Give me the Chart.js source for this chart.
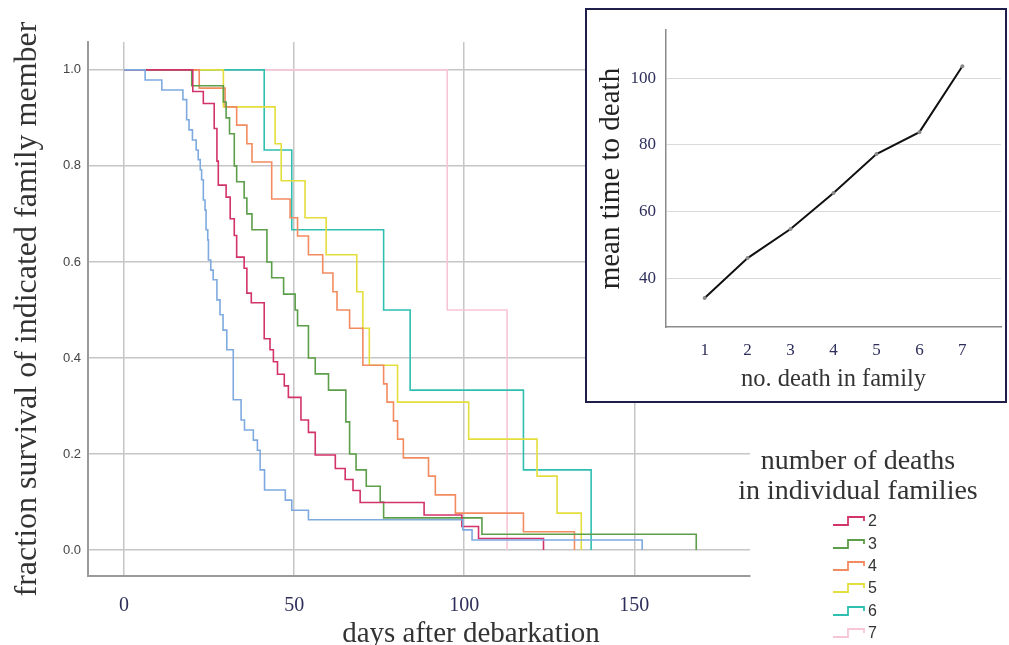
<!DOCTYPE html>
<html>
<head>
<meta charset="utf-8">
<script src="https://cdn.jsdelivr.net/npm/chart.js@4.4.1/dist/chart.umd.min.js"></script>
<style>
  html, body { margin: 0; padding: 0; background: #fff; }
  body { width: 1009px; height: 645px; position: relative; overflow: hidden; }
  #mainWrap { position: absolute; left: 0; top: 0; width: 1009px; height: 645px; }
  #xTitle { position: absolute; left: 471px; top: 617px; transform: translateX(-50%);
            font: 29px "Liberation Serif", serif; color: #333; white-space: nowrap; line-height: 30px; }
  #inset { position: absolute; left: 585px; top: 8px; width: 422px; height: 395px;
           box-sizing: border-box; border: 2px solid #1f1f4c; background: #fff; }
  #insetWrap { position: absolute; left: 0; top: 0; width: 418px; height: 391px; }
  #legend { position: absolute; left: 727px; top: 445px; width: 262px; font-family: "Liberation Sans", Arial, sans-serif; }
  #legend .ttl { text-align: center; font: 28px "Liberation Serif", serif; color: #333; line-height: 30px; }
  #legend .items { position: absolute; left: 105px; top: 65px; }
  #legend .row { height: 22.4px; display: flex; align-items: center; font-size: 16px; color: #333; }
  #legend .row svg { margin-right: 2px; }
</style>
</head>
<body>
<div id="mainWrap"><canvas id="survival"></canvas></div>
<div id="xTitle">days after debarkation</div>
<div id="inset"><div id="insetWrap"><canvas id="meanTime"></canvas></div></div>
<div id="legend">
  <div class="ttl">number of deaths<br>in individual families</div>
  <div class="items" id="legendItems"></div>
</div>
<script>
// Kaplan-Meier steps: [day, fraction surviving after that day]
const deaths1 = [[0,1],[6.2,0.979],[11.1,0.958],[17.3,0.938],[18.4,0.896],[19.1,0.875],[20.1,0.854],[21.2,0.833],
  [21.8,0.813],[22.4,0.792],[22.8,0.771],[23.3,0.729],[23.8,0.708],[24.1,0.667],[24.6,0.646],[24.8,0.604],
  [25.5,0.583],[26.2,0.563],[27.3,0.521],[28.2,0.49],[29.1,0.458],[30.2,0.417],[32.1,0.313],[34.4,0.271],
  [35.4,0.25],[38.0,0.229],[39.2,0.208],[40.0,0.167],[41.3,0.125],[47.4,0.104],[49.3,0.083],[54.2,0.063],
  [99.6,0.042],[102.3,0.021],[152.3,0]];
const deaths2 = [[0,1],[20.2,0.955],[23.3,0.93],[26.5,0.878],[27.3,0.81],[27.7,0.76],[30.0,0.735],[31.2,0.69],
  [32.4,0.655],[33.1,0.61],[35.3,0.587],[36.1,0.535],[37.4,0.515],[41.2,0.44],[42.9,0.417],[43.9,0.392],
  [45.1,0.366],[47.1,0.342],[48.3,0.318],[52.0,0.271],[54.2,0.245],[56.2,0.198],[62.1,0.17],[65.0,0.147],
  [67.3,0.124],[69.4,0.099],[88.2,0.073],[99.3,0.049],[104.2,0.024],[123.3,0]];
const deaths3 = [[0,1],[19.9,0.967],[29.2,0.933],[30.0,0.9],[31.0,0.867],[32.4,0.8],[33.1,0.767],[35.3,0.733],
  [36.1,0.7],[37.6,0.667],[42.0,0.6],[43.4,0.567],[46.9,0.533],[50.3,0.5],[51.0,0.467],[54.2,0.4],[56.2,0.367],
  [60.1,0.333],[65.2,0.267],[66.3,0.2],[68.2,0.167],[71.2,0.133],[75.3,0.1],[76.3,0.067],[105.2,0.033],[168.2,0]];
const deaths4 = [[0,1],[22.1,0.962],[29.7,0.923],[33.1,0.885],[36.1,0.846],[37.6,0.808],[43.4,0.731],[48.8,0.692],
  [51.0,0.654],[54.2,0.615],[58.4,0.577],[61.4,0.538],[62.6,0.5],[66.3,0.462],[70.2,0.385],[76.3,0.346],
  [77.3,0.308],[79.2,0.269],[80.4,0.231],[82.1,0.192],[89.5,0.154],[91.5,0.115],[97.4,0.077],[117.4,0.038],[132.4,0]];
const deaths5 = [[0,1],[29.2,0.923],[44.4,0.846],[46.2,0.769],[53.2,0.692],[59.4,0.615],[68.4,0.538],[70.2,0.462],
  [72.1,0.385],[80.4,0.308],[101.3,0.231],[121.4,0.154],[127.3,0.077],[134.4,0]];
const deaths6 = [[0,1],[41.2,0.833],[49.3,0.667],[76.3,0.5],[84.1,0.333],[117.4,0.167],[137.3,0]];
const deaths7 = [[0,1],[95.0,0.5],[112.6,0]];

const seriesNames = ["1", "2", "3", "4", "5", "6", "7"];
const seriesColors = ["#7eaae0", "#d2336a", "#5c9e4a", "#f38b60", "#e4de3c", "#2fbfb0", "#f7c6d6"];
const inLegend = [false, true, true, true, true, true, true];

const dayTicks = [0, 50, 100, 150];
const survTicks = [0, 0.2, 0.4, 0.6, 0.8, 1.0];

// inset: mean time to death by number of deaths in the family
const deathCounts = [1, 2, 3, 4, 5, 6, 7];
const meanTime = [34.0, 46.0, 54.7, 65.5, 77.2, 83.8, 103.6];
const meanTicks = [40, 60, 80, 100];

const navy = "#2e2e5c";
const allSeries = [deaths1, deaths2, deaths3, deaths4, deaths5, deaths6, deaths7];

function SurvivalChart() {
    const ctx = document.getElementById("survival");
    new Chart(ctx, {
        type: "line",
        data: {
            datasets: allSeries.map((s, i) => ({
                label: seriesNames[i],
                data: s.map(p => ({ x: p[0], y: p[1] })),
                stepped: true,
                borderColor: seriesColors[i],
                borderWidth: 1.6,
                pointRadius: 0,
                fill: false,
            })),
        },
        options: {
            responsive: true,
            maintainAspectRatio: false,
            animation: false,
            layout: { padding: { left: 0, top: 42, right: 259, bottom: 0 } },
            scales: {
                x: {
                    type: "linear",
                    min: -10.6,
                    max: 184,
                    afterBuildTicks: axis => { axis.ticks = dayTicks.map(v => ({ value: v })); },
                    afterFit: axis => { axis.height = 69; },
                    grid: { color: "#c6c6c6", lineWidth: 1.5, drawTicks: false },
                    border: { color: "#9a9a9a", width: 2 },
                    ticks: { color: navy, padding: 18, font: { family: "Liberation Serif", size: 20 } },
                },
                y: {
                    min: -0.054,
                    max: 1.058,
                    afterBuildTicks: axis => { axis.ticks = survTicks.map(v => ({ value: v })); },
                    afterFit: axis => { axis.width = 88; },
                    grid: { color: "#c6c6c6", lineWidth: 1.5, drawTicks: false },
                    border: { color: "#9a9a9a", width: 2 },
                    ticks: {
                        color: "#444",
                        padding: 7,
                        font: { family: "Liberation Sans", size: 13 },
                        callback: v => v.toFixed(1),
                    },
                    title: {
                        display: true,
                        text: "fraction survival of indicated family member",
                        color: "#333",
                        padding: { top: 12, bottom: 0 },
                        font: { family: "Liberation Serif", size: 32, lineHeight: 1 },
                    },
                },
            },
            plugins: { legend: { display: false }, tooltip: { enabled: false } },
        },
    });
}

function MeanTimeChart() {
    const ctx = document.getElementById("meanTime");
    new Chart(ctx, {
        type: "line",
        data: {
            datasets: [{
                data: deathCounts.map((c, i) => ({ x: c, y: meanTime[i] })),
                borderColor: "#111",
                borderWidth: 2,
                pointRadius: 2,
                pointBackgroundColor: "#8a8a8a",
                pointBorderColor: "#8a8a8a",
                pointBorderWidth: 0,
                tension: 0,
            }],
        },
        options: {
            responsive: true,
            maintainAspectRatio: false,
            animation: false,
            layout: { padding: { left: 0, top: 20, right: 1, bottom: 0 } },
            scales: {
                x: {
                    type: "linear",
                    min: 0.1,
                    max: 7.9,
                    afterBuildTicks: axis => { axis.ticks = deathCounts.map(v => ({ value: v })); },
                    afterFit: axis => { axis.height = 74; },
                    grid: { display: false, drawTicks: false },
                    border: { color: "#8a8a8a", width: 1.5 },
                    ticks: { color: navy, padding: 13, font: { family: "Liberation Serif", size: 17 } },
                    title: {
                        display: true,
                        text: "no. death in family",
                        color: "#333",
                        padding: { top: 0, bottom: 9 },
                        font: { family: "Liberation Serif", size: 24.5, lineHeight: 1 },
                    },
                },
                y: {
                    min: 25.3,
                    max: 114.4,
                    afterBuildTicks: axis => { axis.ticks = meanTicks.map(v => ({ value: v })); },
                    afterFit: axis => { axis.width = 79; },
                    grid: { color: "#dadada", lineWidth: 1, drawTicks: false },
                    border: { color: "#8a8a8a", width: 1.5 },
                    ticks: { color: navy, padding: 10, font: { family: "Liberation Serif", size: 17 } },
                    title: {
                        display: true,
                        text: "mean time to death",
                        color: "#222",
                        padding: { top: 10, bottom: 0 },
                        font: { family: "Liberation Serif", size: 29, lineHeight: 1 },
                    },
                },
            },
            plugins: { legend: { display: false }, tooltip: { enabled: false } },
        },
    });
}

function BuildLegend() {
    const box = document.getElementById("legendItems");
    seriesNames.forEach((name, i) => {
        if (!inLegend[i]) return;
        const row = document.createElement("div");
        row.className = "row";
        row.innerHTML =
            '<svg width="34" height="12"><polyline points="1,10 16,10 16,2 32,2 32,6" fill="none" stroke="' +
            seriesColors[i] + '" stroke-width="1.8"/></svg><span>' + name + "</span>";
        box.appendChild(row);
    });
}

SurvivalChart()
MeanTimeChart()
BuildLegend()
</script>
</body>
</html>
